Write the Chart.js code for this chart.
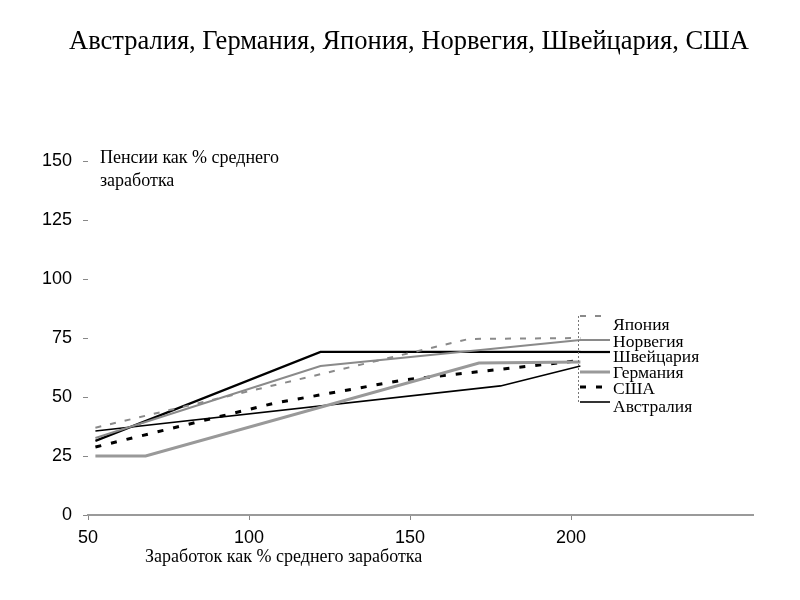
<!DOCTYPE html>
<html>
<head>
<meta charset="utf-8">
<script src="https://cdn.jsdelivr.net/npm/chart.js@4/dist/chart.umd.min.js"></script>
<style>html,body{margin:0;padding:0;background:#fff;}canvas{display:block;}</style>
</head>
<body>
<canvas id="c" width="800" height="600"></canvas>
<script>
// ---- Data ----
const chartTitle = "Австралия, Германия, Япония, Норвегия, Швейцария, США";
const yAxisTitle = ["Пенсии как % среднего", "заработка"];
const xAxisTitle = "Заработок как % среднего заработка";
const xTickValues = [50, 100, 150, 200];
const yTickStep = 25;

const japanX = [52.3, 168.3, 202.9];
const japanY = [37, 74.6, 75];
const norwayX = [52.3, 122.2, 202.9];
const norwayY = [32.6, 63.1, 74.2];
const switzerlandX = [52.3, 122.2, 202.9];
const switzerlandY = [31.4, 69.1, 69.1];
const germanyX = [52.3, 67.9, 171.4, 202.9];
const germanyY = [25, 25, 64.4, 64.8];
const usaX = [52.3, 108.2, 148, 202.9];
const usaY = [28.8, 47.5, 57.2, 65.5];
const australiaX = [52.3, 178.1, 202.9];
const australiaY = [35.6, 54.7, 63.1];

const seriesNames = ["Япония", "Норвегия", "Швейцария", "Германия", "США", "Австралия"];

function pts(xs, ys) { return xs.map((x, i) => ({ x: x, y: ys[i] })); }

const datasets = [
  { label: seriesNames[0], data: pts(japanX, japanY), borderColor: '#8a8a8a', borderWidth: 2, borderDash: [6, 9] },
  { label: seriesNames[1], data: pts(norwayX, norwayY), borderColor: '#8a8a8a', borderWidth: 2 },
  { label: seriesNames[2], data: pts(switzerlandX, switzerlandY), borderColor: '#000', borderWidth: 2.2 },
  { label: seriesNames[3], data: pts(germanyX, germanyY), borderColor: '#999', borderWidth: 3 },
  { label: seriesNames[4], data: pts(usaX, usaY), borderColor: '#000', borderWidth: 3, borderDash: [6, 10] },
  { label: seriesNames[5], data: pts(australiaX, australiaY), borderColor: '#000', borderWidth: 1.6 }
].map(d => Object.assign({ pointRadius: 0, fill: false, tension: 0 }, d));

const decor = {
  id: 'decor',
  afterDraw(chart) {
    const ctx = chart.ctx;
    ctx.save();
    ctx.fillStyle = '#000';
    ctx.textBaseline = 'middle';
    // title
    ctx.font = '26.5px "Liberation Serif"';
    ctx.textAlign = 'center';
    ctx.fillText(chartTitle, 409, 42);
    // axis titles
    ctx.font = '18px "Liberation Serif"';
    ctx.textAlign = 'left';
    ctx.fillText(yAxisTitle[0], 100, 158);
    ctx.fillText(yAxisTitle[1], 100, 181);
    ctx.fillText(xAxisTitle, 145, 557);
    // legend
    ctx.font = '17.5px "Liberation Serif"';
    const textY = [325, 342, 357, 373, 389, 407];
    const lineY = [316, 340, 352, 372, 387, 402];
    chart.data.datasets.forEach((ds, i) => {
      ctx.fillStyle = '#000';
      ctx.fillText(ds.label, 613, textY[i]);
      ctx.strokeStyle = ds.borderColor;
      ctx.lineWidth = ds.borderWidth;
      ctx.setLineDash(ds.borderDash || []);
      ctx.beginPath();
      ctx.moveTo(580, lineY[i]);
      ctx.lineTo(610, lineY[i]);
      ctx.stroke();
    });
    // dotted box edge
    ctx.setLineDash([2, 2]);
    ctx.strokeStyle = '#777';
    ctx.lineWidth = 1;
    ctx.beginPath();
    ctx.moveTo(578.5, 316);
    ctx.lineTo(578.5, 404);
    ctx.stroke();
    ctx.restore();
  }
};

new Chart(document.getElementById('c'), {
  type: 'line',
  data: { datasets: datasets },
  options: {
    responsive: false,
    animation: false,
    layout: { padding: { top: 161, right: 47, left: 0, bottom: 0 } },
    plugins: { legend: { display: false }, tooltip: { enabled: false }, title: { display: false } },
    scales: {
      x: {
        type: 'linear',
        min: 50,
        max: 256.5,
        afterBuildTicks: s => { s.ticks = xTickValues.map(v => ({ value: v })); },
        afterFit: s => { s.height = 85; },
        grid: { display: true, drawOnChartArea: false, drawTicks: true, tickLength: 5, color: '#888', lineWidth: 1 },
        border: { display: true, color: '#9a9a9a', width: 2 },
        ticks: { color: '#000', font: { family: 'Liberation Sans', size: 18 }, padding: 7, maxRotation: 0, autoSkip: false }
      },
      y: {
        min: 0,
        max: 150,
        afterFit: s => { s.width = 88; },
        grid: { display: true, drawOnChartArea: false, drawTicks: true, tickLength: 5, color: '#888', lineWidth: 1 },
        border: { display: false },
        ticks: { stepSize: yTickStep, color: '#000', font: { family: 'Liberation Sans', size: 18 }, padding: 11 }
      }
    }
  },
  plugins: [decor]
});
</script>
</body>
</html>
